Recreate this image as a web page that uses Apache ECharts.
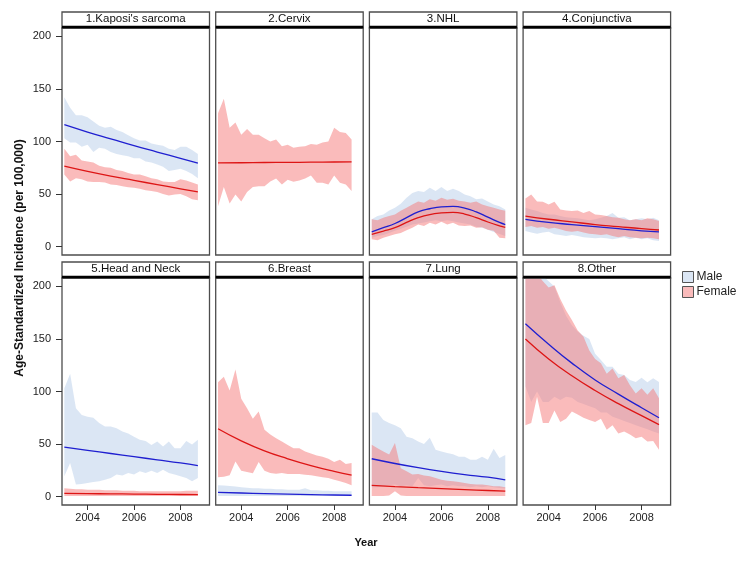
<!DOCTYPE html>
<html><head><meta charset="utf-8">
<script src="https://cdn.jsdelivr.net/npm/echarts@6.0.0/dist/echarts.min.js"></script>
<style>html,body{margin:0;padding:0;background:#fff}#c{width:750px;height:562px}</style>
</head><body><div id="c"></div>
<script>
// ---------- DATA ----------
const panelTitles = ["1.Kaposi's sarcoma","2.Cervix","3.NHL","4.Conjunctiva","5.Head and Neck","6.Breast","7.Lung","8.Other"];
const bandYears = [2003,2003.25,2003.5,2003.75,2004,2004.25,2004.5,2004.75,2005,2005.25,2005.5,2005.75,2006,2006.25,2006.5,2006.75,2007,2007.25,2007.5,2007.75,2008,2008.25,2008.5,2008.75];
const lineYears = [2003,2004,2005,2006,2007,2008,2008.75];
const halfYears = [2003,2003.5,2004,2004.5,2005,2005.5,2006,2006.5,2007,2007.5,2008,2008.5,2008.75];
const xTicks = [2004,2006,2008];
const yTicks = [0,50,100,150,200];
const legendNames = ["Male","Female"];

// 1. Kaposi's sarcoma
const ksMaleHi = [142,132,125,125,123,119,115,113,114,111,109,106,103,101,101,98,97,96,93,92,95,95,92,88];
const ksMaleLo = [103,99,99,95,97,90,94,93,90,88,87,86,84,84,81,80,78,76,72,73,74,72,69,65];
const ksMaleLine = [116,109,102.5,96,90,84,79.5];
const ksFemHi = [93,86,87.5,82,81,80,77,75.5,75,73,72,70,68.5,68.5,67,65,64,62,61.5,61.5,64,63,61,59];
const ksFemLo = [68.5,62,65,64,62,61.5,61.5,61,59,58.5,57.5,56.5,56,55,53.5,53,52,50,48.5,49.5,50,48,45,44];
const ksFemLine = [76.5,71.5,67,63,59,55,52];
// 2. Cervix (female only)
const cxFemHi = [127,140.6,113,118,106.5,112,106.5,106.5,103,100,102,95.4,97,94,95,95.4,97.6,97,99,100,113,109,108,102];
const cxFemLo = [38.5,56.6,41,49.6,43,52,56.6,57.5,57.5,62,64.8,59,63.5,61.6,63,64.8,67.6,60.7,60.7,59,67.6,60.7,59,52.8];
const cxFemLine = [79.6,79.8,80,80.1,80.3,80.5,80.6];
// 3. NHL (fit lines read at half-year points)
const nhlMaleHi = [26,29,30.6,34.4,37,40.8,46.5,51,53,52,56,53,56.6,52.8,55,52.8,49.6,48,45,45.8,43,40,38.5,35.4];
const nhlMaleLo = [8.5,10,11,13,15,17,19,21,22,23,24,25,24,25,24,23,22,21,19,18,16,14,12,10];
const nhlMaleLine = [14,18,22,27.5,33,36,37.8,38.2,36.7,33,28,23,21];
const nhlFemHi = [26,25,27.5,29,30.6,34,37,40,43,41.7,45,43.6,46.5,44.6,45.5,43.6,43,41.7,43,40,38.5,37,35.4,34];
const nhlFemLo = [7,6,8.5,10,11.7,13,15.5,18,21,19.6,22.7,21,23.7,21,22.7,20,19.6,20,18,18.3,16,15,8.5,8];
const nhlFemLine = [11.7,14.8,18,23,27.5,30.5,32,32.5,31,27.5,23.4,19.8,18.3];
// 4. Conjunctiva
const cjMaleHi = [37,35.4,33.8,32,30.6,30.6,29,28,27.5,27,26,25,26,27.5,29,32,27.5,28,25,26,27,26,27.5,25];
const cjMaleLo = [14.8,13.3,12.3,13.3,14.2,11.7,11,10,11,10,9,8.5,8,8.5,8,7,8,9,7,8.5,7,8,6,5.4];
const cjMaleLine = [26,23,21,19,17,15,14];
const cjFemHi = [45.8,49.6,43,42.7,40,42.7,35.4,34.4,33.8,34.4,32,33.8,30.6,30,29,28,27.5,26,25,26,25,27,26,24.3];
const cjFemLo = [18.6,19.6,18,18.6,17,18,16.4,14.8,14.2,14.8,13.3,12.3,11.7,11,11.7,10,9,10,9,8.5,8,8.5,8,7];
const cjFemLine = [29,26,23.5,21,19,17,15.8];
// 5. Head and Neck
const hnMaleHi = [103,117,84,77.7,76,75,70,66.7,66.7,65,62,60,57,54,53,49,52.5,47.7,52.5,46,46,53,49.6,54];
const hnMaleLo = [19.3,32,11.4,12,13,14,14.5,16,17.7,21,20,22.4,21,24,22.4,24.6,22.4,25.6,22.4,21,19.3,17.7,14.5,17.7];
const hnMaleLine = [47,44,41,38,35,32,29.5];
const hnFemHi = [8,7.5,7,7,6.5,6.5,6.5,6,6,6,5.5,5.5,5.5,5,5,5,5,5,5,5,5,5.5,5.5,5.5];
const hnFemLo = [0.6,0.6,0.5,0.5,0.5,0.5,0.5,0.5,0.5,0.5,0.5,0.5,0.5,0.5,0.5,0.5,0.5,0.5,0.5,0.5,0.5,0.5,0.5,0.5];
const hnFemLine = [3,2.8,2.6,2.4,2.2,2,1.8];
// 6. Breast
const brMaleHi = [10.7,10.5,10,9.5,9,8.5,8,8,7.5,7.5,7,7,6.5,6.5,6.5,8,6,6,5.5,5.5,5,5,5,5];
const brMaleLo = [0.5,0.5,0.5,0.5,0.5,0.5,0.5,0.5,0.5,0.5,0.5,0.5,0.5,0.5,0.5,0.5,0.5,0.5,0.5,0.5,0.5,0.5,0.5,0.5];
const brMaleLine = [4.1,3.4,2.8,2.3,1.9,1.5,1.3];
const brFemHi = [108.7,114,101,121,93,84,74,81,63.5,59,55.6,52.5,49,46,46,43,41,39,38,36,33,35,31,32];
const brFemLo = [18.3,19,20.2,33.5,24.6,23.4,22.1,32.9,24.6,22.4,21.8,22.4,21.5,21.5,21.5,20.9,20.2,19.3,18.3,17.7,16.1,14.5,13,10.7];
const brFemLine = [64.5,53,43.5,36,29.5,24,20.5];
// 7. Lung
const luMaleHi = [80,80,73,70,68,65,57,55.6,52.5,50,56,44.6,43,41.4,40.4,38,38,35,35,38,35,45.5,36.7,39.5];
const luMaleLo = [8.8,8.8,9.8,10.7,11.4,9.8,10.7,9.8,17.7,10.7,9.8,10.7,11.4,9.8,10.7,9.8,9.8,8.8,9.8,8.8,9.8,8.8,8.2,7.6];
const luMaleLine = [36,31.5,27.5,24,21,18.5,16];
const luFemHi = [49.3,46,43,40,51,27,24,21,21.5,20,19.3,17.7,16,15,14.5,14,13,12,11.4,11.4,10.7,9.8,9.8,8.8];
const luFemLo = [0.5,0.5,0.5,1,5,1,0.5,0.5,0.5,0.5,0.5,0.5,0.5,0.5,0.5,0.5,0.5,0.5,0.5,0.5,0.5,0.5,0.5,0.5];
const luFemLine = [10.7,9.5,8.5,7.6,6.7,5.8,5.2];
// 8. Other
const otMaleHi = [235,225,215,210,205,200,185,172,163,157,153,150,136,130,123.5,123.5,117,115.6,111,109,113,108.7,112.5,109];
const otMaleLo = [105,90,100,90,90,95,92,95,94,90,88,86,84,80,80,76,74,72,70,68,66,64,62,60];
const otMaleLine = [164.5,145,127,111,97.5,84.5,75];
const otFemHi = [235,222,212,205,199,201,188,177,168,158,152,139,131,127,117,122,112.5,115.6,106,98,103,97,103,93.5];
const otFemLo = [68,70,95,70,70,82,71,74,81,78,75,73,71,74,63.5,68,60,62,59,55.5,57,52.5,53,44.5];
const otFemLine = [150,131,115,101,88.5,77,68.5];

const panelData = [
  {lx:lineYears,mHi:ksMaleHi,mLo:ksMaleLo,mLine:ksMaleLine,fHi:ksFemHi,fLo:ksFemLo,fLine:ksFemLine},
  {lx:lineYears,mHi:null,mLo:null,mLine:null,fHi:cxFemHi,fLo:cxFemLo,fLine:cxFemLine},
  {lx:halfYears,mHi:nhlMaleHi,mLo:nhlMaleLo,mLine:nhlMaleLine,fHi:nhlFemHi,fLo:nhlFemLo,fLine:nhlFemLine},
  {lx:lineYears,mHi:cjMaleHi,mLo:cjMaleLo,mLine:cjMaleLine,fHi:cjFemHi,fLo:cjFemLo,fLine:cjFemLine},
  {lx:lineYears,mHi:hnMaleHi,mLo:hnMaleLo,mLine:hnMaleLine,fHi:hnFemHi,fLo:hnFemLo,fLine:hnFemLine},
  {lx:lineYears,mHi:brMaleHi,mLo:brMaleLo,mLine:brMaleLine,fHi:brFemHi,fLo:brFemLo,fLine:brFemLine},
  {lx:lineYears,mHi:luMaleHi,mLo:luMaleLo,mLine:luMaleLine,fHi:luFemHi,fLo:luFemLo,fLine:luFemLine},
  {lx:lineYears,mHi:otMaleHi,mLo:otMaleLo,mLine:otMaleLine,fHi:otFemHi,fLo:otFemLo,fLine:otFemLine}
];

// ---------- LAYOUT / STYLE ----------
const FONT = "Liberation Sans, Arial, sans-serif";
const colLeft = [62, 215.7, 369.4, 523.1];
const panelW = 147.5;
const stripTop = [12, 262];
const plotTop = [28, 278];
const plotH = 227;
const maleFill = 'rgba(190,210,235,0.55)';
const femFill = 'rgba(245,120,120,0.5)';
const maleLineColor = '#1f1fd0';
const femLineColor = '#dd1515';
const borderColor = '#4d4d4d';

const zip = (xs, ys) => xs.map((x, i) => [x, ys[i]]);

function bandSeries(p, name, hi, lo, color, z) {
  return {
    type: 'custom', name: name, xAxisIndex: p, yAxisIndex: p, z: z, silent: true, animation: false,
    itemStyle: {color: color},
    data: bandYears.map((x, i) => [x, lo[i], hi[i]]),
    encode: {x: 0, y: [1, 2]},
    renderItem: function (params, api) {
      if (params.dataIndex !== 0) return null;
      const pts = [];
      for (let i = 0; i < bandYears.length; i++) pts.push(api.coord([bandYears[i], hi[i]]));
      for (let i = bandYears.length - 1; i >= 0; i--) pts.push(api.coord([bandYears[i], lo[i]]));
      const cs = params.coordSys;
      return {
        type: 'polygon', shape: {points: pts}, style: {fill: color, stroke: null},
        clipPath: {type: 'rect', shape: {x: cs.x, y: cs.y, width: cs.width, height: cs.height}}
      };
    }
  };
}

const grids = [], xAxes = [], yAxes = [], series = [], graphics = [];
panelTitles.forEach((title, p) => {
  const row = Math.floor(p / 4), col = p % 4;
  const d = panelData[p];
  grids.push({left: colLeft[col], top: plotTop[row], width: panelW, height: plotH,
    show: true, borderColor: borderColor, borderWidth: 1.3, backgroundColor: 'transparent', outerBoundsMode: 'none'});
  xAxes.push({type: 'value', gridIndex: p, min: 2002.9, max: 2009.25,
    splitLine: {show: false}, axisLine: {show: false, onZero: false},
    axisTick: {show: row === 1, length: 5, customValues: xTicks, lineStyle: {color: '#333'}},
    axisLabel: {show: row === 1, customValues: xTicks, margin: 7, fontSize: 11, color: '#222', fontFamily: FONT, formatter: v => String(v)}});
  yAxes.push({type: 'value', gridIndex: p, min: -8, max: 208,
    splitLine: {show: false}, axisLine: {show: false, onZero: false},
    axisTick: {show: col === 0, length: 6, customValues: yTicks, lineStyle: {color: '#333'}},
    axisLabel: {show: col === 0, customValues: yTicks, margin: 11, fontSize: 11, color: '#222', fontFamily: FONT}});
  const base = {type: 'line', xAxisIndex: p, yAxisIndex: p, symbol: 'none', silent: true, animation: false};
  if (d.mHi) series.push(bandSeries(p, legendNames[0], d.mHi, d.mLo, maleFill, 1));
  series.push(bandSeries(p, legendNames[1], d.fHi, d.fLo, femFill, 2));
  if (d.mLine) {
    series.push(Object.assign({}, base, {name: 'MaleFit', data: zip(d.lx, d.mLine), smooth: 0.5, lineStyle: {color: maleLineColor, width: 1.3}, z: 5}));
  }
  series.push(Object.assign({}, base, {name: 'FemaleFit', data: zip(d.lx, d.fLine), smooth: 0.5, lineStyle: {color: femLineColor, width: 1.3}, z: 6}));
  // strip
  const sx = colLeft[col], sy = stripTop[row], sh = plotTop[row] - stripTop[row];
  graphics.push({type: 'rect', shape: {x: sx, y: sy, width: panelW, height: sh}, style: {fill: '#fff', stroke: borderColor, lineWidth: 1.3}, z: 10});
  graphics.push({type: 'line', shape: {x1: sx, y1: sy + sh - 1, x2: sx + panelW, y2: sy + sh - 1}, style: {stroke: '#000', lineWidth: 2.5}, z: 11});
  graphics.push({type: 'text', x: sx + panelW / 2, y: sy + sh / 2 - 1, style: {text: title, fill: '#111', font: '11.5px ' + FONT, textAlign: 'center', textVerticalAlign: 'middle'}, z: 12});
});
graphics.push({type: 'text', x: 20, y: 258, rotation: Math.PI / 2,
  style: {text: 'Age-Standardized Incidence (per 100,000)', fill: '#111', font: 'bold 12px ' + FONT, textAlign: 'center', textVerticalAlign: 'middle'}});
graphics.push({type: 'text', x: 366, y: 543,
  style: {text: 'Year', fill: '#111', font: 'bold 11px ' + FONT, textAlign: 'center', textVerticalAlign: 'middle'}});

const chart = echarts.init(document.getElementById('c'), null, {renderer: 'canvas'});
chart.setOption({
  animation: false,
  backgroundColor: '#fff',
  grid: grids, xAxis: xAxes, yAxis: yAxes, series: series, graphic: graphics,
  legend: {
    data: [
      {name: legendNames[0], icon: 'rect', itemStyle: {color: 'rgb(219,230,244)', borderColor: '#555', borderWidth: 1}},
      {name: legendNames[1], icon: 'rect', itemStyle: {color: 'rgb(250,187,187)', borderColor: '#555', borderWidth: 1}}
    ],
    orient: 'vertical', left: 677, top: 266, itemWidth: 11, itemHeight: 11, itemGap: 3,
    selectedMode: false, textStyle: {fontSize: 12, color: '#222', fontFamily: FONT, padding: [0, 0, 0, -2]}
  }
});
</script></body></html>
